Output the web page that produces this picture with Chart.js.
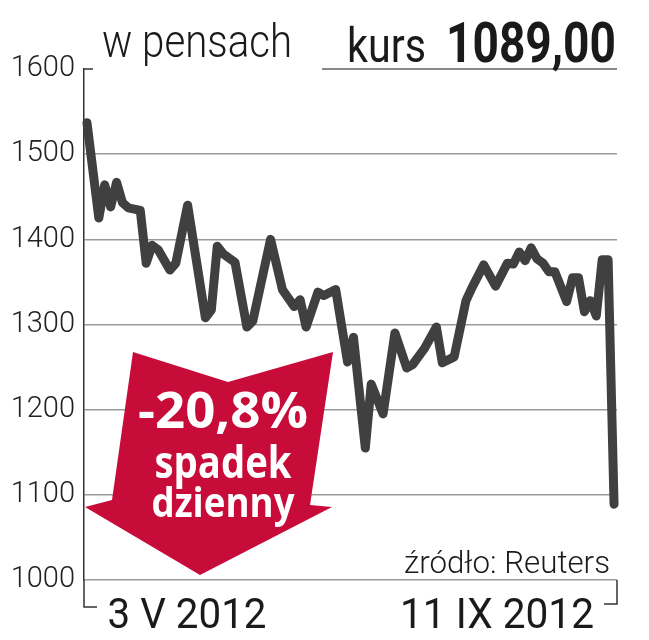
<!DOCTYPE html>
<html>
<head>
<meta charset="utf-8">
<script src="https://cdn.jsdelivr.net/npm/chart.js@4.4.1/dist/chart.umd.min.js"></script>
<style>
  html, body { margin: 0; padding: 0; background: #fff; }
  canvas { display: block; }
</style>
</head>
<body>
<canvas id="priceChart" width="649" height="640"></canvas>
<script>
// Data (trading day index since 3 V 2012, price in pence)
const days = [0,2,3,4,5,6,7,9,10,11,12,14,15,17,20,21,22,23,25,27,28,31,33,35,36,37,39,40,42,44,45,47,48,50,52,54,55,57,59,60,62,64,65,67,69,71,72,73,74,75,76,77,78,79,81,82,83,84,85,86,87,88,89];
const prices = [1537,1425,1464,1438,1467,1443,1437,1434,1372,1393,1388,1364,1372,1440,1308,1317,1392,1383,1373,1297,1304,1400,1341,1321,1329,1297,1338,1334,1341,1256,1285,1155,1230,1195,1290,1249,1253,1272,1297,1255,1262,1328,1343,1370,1345,1372,1371,1385,1375,1390,1377,1372,1362,1362,1327,1355,1355,1315,1328,1310,1376,1376,1089];
const dateLabels = ['3 V 2012', '11 IX 2012'];
const yMin = 1000, yMax = 1600, yStep = 100;

const unitLabel = 'w pensach';
const priceLabel = 'kurs';
const lastPrice = '1089,00';
const sourceLabel = 'źródło: Reuters';
const calloutLines = ['-20,8%', 'spadek', 'dzienny'];

// draw text squeezed to a given width (the original uses a condensed face)
function fitText(ctx, text, x, y, font, width, align, color) {
    ctx.save();
    ctx.font = font;
    ctx.fillStyle = color;
    ctx.textBaseline = 'alphabetic';
    ctx.textAlign = 'left';
    const w = ctx.measureText(text).width;
    let x0 = x;
    if (align === 'center') x0 = x - width / 2;
    if (align === 'right') x0 = x - width;
    ctx.translate(x0, y);
    ctx.scale(width / w, 1);
    ctx.fillText(text, 0, 0);
    ctx.restore();
}

const arrowPlugin = {
    id: 'arrow',
    beforeDatasetsDraw(chart) {
        const ctx = chart.ctx;
        const a = chart.chartArea;
        const L = a.left, T = a.top;
        ctx.save();
        ctx.fillStyle = '#c70c3a';
        ctx.beginPath();
        ctx.moveTo(L + 49, T + 283);
        ctx.lineTo(L + 144, T + 313);
        ctx.lineTo(L + 249, T + 283);
        ctx.lineTo(L + 226, T + 436);
        ctx.lineTo(L + 248, T + 438);
        ctx.lineTo(L + 116, T + 506);
        ctx.lineTo(L + 1, T + 438);
        ctx.lineTo(L + 28, T + 431);
        ctx.closePath();
        ctx.fill();
        const cx = L + 139;
        fitText(ctx, calloutLines[0], cx, T + 359, 'bold 50px "Open Sans"', 170, 'center', '#fff');
        fitText(ctx, calloutLines[1], cx, T + 409, 'bold 44px "Open Sans"', 137, 'center', '#fff');
        fitText(ctx, calloutLines[2], cx, T + 448, 'bold 42px "Open Sans"', 143, 'center', '#fff');
        ctx.restore();
    },
    afterDraw(chart) {
        const ctx = chart.ctx;
        const a = chart.chartArea;
        ctx.save();
        ctx.strokeStyle = '#333';
        ctx.lineWidth = 1.5;
        // small tick at the top of the axis
        ctx.beginPath();
        ctx.moveTo(a.left, a.top);
        ctx.lineTo(a.left + 9, a.top);
        ctx.stroke();
        // brackets under the date axis
        ctx.beginPath();
        ctx.moveTo(a.left, a.bottom);
        ctx.lineTo(a.left, a.bottom + 27);
        ctx.lineTo(a.left + 13, a.bottom + 27);
        ctx.moveTo(a.right, a.bottom);
        ctx.lineTo(a.right, a.bottom + 24);
        ctx.lineTo(a.right - 13, a.bottom + 24);
        ctx.stroke();
        // underline next to the price
        ctx.strokeStyle = '#888';
        ctx.lineWidth = 2;
        ctx.beginPath();
        ctx.moveTo(322, a.top);
        ctx.lineTo(a.right, a.top);
        ctx.stroke();
        ctx.restore();

        const ink = '#1a1a1a';
        fitText(ctx, unitLabel, 102, 57, '300 46px Roboto', 190, 'left', ink);
        fitText(ctx, priceLabel, 347, 62, '400 48px Roboto', 79, 'left', ink);
        fitText(ctx, lastPrice, 616, 62, 'bold 56px Roboto', 170, 'right', ink);
        fitText(ctx, sourceLabel, 610, 573, '300 32px Roboto', 206, 'right', ink);
        fitText(ctx, dateLabels[0], 187, 628, '400 43px Roboto', 159, 'center', ink);
        fitText(ctx, dateLabels[1], 497, 628, '400 43px Roboto', 194, 'center', ink);
    }
};

new Chart(document.getElementById('priceChart'), {
    type: 'line',
    data: {
        datasets: [{
            data: days.map((d, i) => ({ x: d, y: prices[i] })),
            borderColor: '#404040',
            borderWidth: 9,
            borderJoinStyle: 'round',
            borderCapStyle: 'round',
            pointRadius: 0,
            tension: 0,
            fill: false,
            clip: false
        }]
    },
    options: {
        responsive: false,
        animation: false,
        events: [],
        layout: { padding: { top: 69, bottom: 60, left: 0, right: 32 } },
        plugins: {
            legend: { display: false },
            tooltip: { enabled: false }
        },
        scales: {
            x: {
                type: 'linear',
                min: -0.5,
                max: 89.5,
                display: false
            },
            y: {
                min: yMin,
                max: yMax,
                afterFit(scale) { scale.width = 84; },
                ticks: {
                    stepSize: yStep,
                    padding: 9,
                    color: '#222',
                    font: { family: 'Roboto', weight: '300', size: 29 },
                    callback: v => String(v)
                },
                grid: {
                    drawTicks: false,
                    lineWidth: 1.5,
                    color: ctx => (ctx.tick && ctx.tick.value === yMax) ? 'rgba(0,0,0,0)' : '#9a9a9a'
                },
                border: { display: true, color: '#333', width: 1.5 }
            }
        }
    },
    plugins: [arrowPlugin]
});
</script>
</body>
</html>
